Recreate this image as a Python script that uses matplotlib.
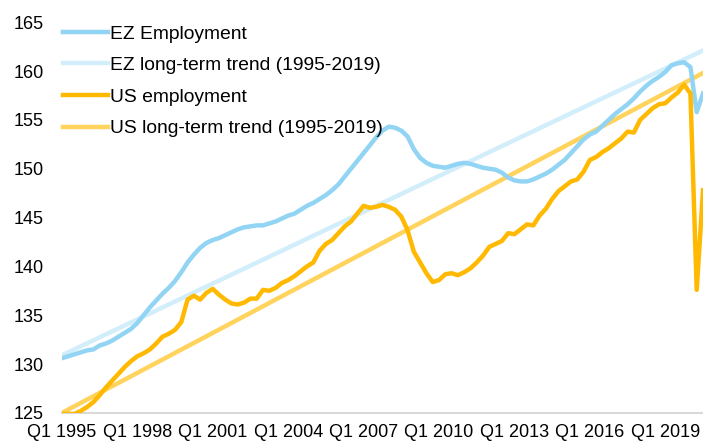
import matplotlib.pyplot as plt
import numpy as np

plt.rcParams['font.family'] = ['Liberation Sans', 'DejaVu Sans']

# Quarterly index values, Q1 1995 .. Q3 2020
ez_employment = [
    130.6, 130.8, 131.0, 131.2, 131.4, 131.5, 131.9, 132.1, 132.4, 132.8,
    133.2, 133.6, 134.2, 135.0, 135.8, 136.5, 137.2, 137.8, 138.5, 139.4,
    140.4, 141.2, 141.9, 142.4, 142.7, 142.9, 143.2, 143.5, 143.8, 144.0,
    144.1, 144.2, 144.2, 144.4, 144.6, 144.9, 145.2, 145.4, 145.8, 146.2,
    146.5, 146.9, 147.3, 147.8, 148.4, 149.2, 150.0, 150.8, 151.6, 152.4,
    153.2, 153.9, 154.3, 154.2, 153.9, 153.3, 152.0, 151.1, 150.6, 150.3,
    150.2, 150.1, 150.3, 150.5, 150.6, 150.5, 150.3, 150.1, 150.0, 149.9,
    149.6, 149.1, 148.8, 148.7, 148.7, 148.9, 149.2, 149.5, 149.9, 150.4,
    150.9, 151.6, 152.3, 153.0, 153.5, 153.8, 154.4, 155.0, 155.6, 156.1,
    156.6, 157.2, 157.9, 158.5, 159.0, 159.4, 159.9, 160.6, 160.8, 160.9,
    160.4, 155.8, 157.7,
]
us_employment = [
    124.9, 124.9, 124.9, 125.2, 125.6, 126.1, 126.8, 127.6, 128.3, 129.0,
    129.7, 130.3, 130.8, 131.1, 131.5, 132.1, 132.8, 133.1, 133.5, 134.3,
    136.6, 137.0, 136.6, 137.3, 137.7, 137.1, 136.6, 136.2, 136.1, 136.3,
    136.7, 136.7, 137.6, 137.5, 137.8, 138.3, 138.6, 139.0, 139.5, 140.0,
    140.4, 141.6, 142.3, 142.7, 143.4, 144.1, 144.6, 145.4, 146.2, 146.0,
    146.1, 146.3, 146.1, 145.8, 145.1, 143.7, 141.5, 140.4, 139.3, 138.4,
    138.6, 139.2, 139.3, 139.1, 139.4, 139.8, 140.4, 141.1, 142.0, 142.3,
    142.6, 143.4, 143.3, 143.8, 144.3, 144.2, 145.2, 145.9, 146.9, 147.7,
    148.2, 148.7, 148.9, 149.7, 150.9, 151.2, 151.7, 152.1, 152.6, 153.1,
    153.8, 153.7, 155.0, 155.6, 156.2, 156.6, 156.7, 157.3, 157.8, 158.6,
    157.7, 137.6, 147.8,
]
# Long-term trend lines: value at first and last quarter
ez_trend = [130.9, 162.1]
us_trend = [125.0, 159.8]

tick_labels = ['Q1 1995', 'Q1 1998', 'Q1 2001', 'Q1 2004', 'Q1 2007',
               'Q1 2010', 'Q1 2013', 'Q1 2016', 'Q1 2019']

x = np.arange(len(ez_employment))
trend_x = [x[0], x[-1]]

fig = plt.figure(figsize=(7.03, 4.44), dpi=100)
ax = fig.add_axes([0.088, 0.070, 0.912, 0.880])

ax.plot(x, ez_employment, color='#92D4F4', lw=3.2, label='EZ Employment', zorder=3)
ax.plot(trend_x, ez_trend, color='#D3EEFB', lw=3.2, label='EZ long-term trend (1995-2019)', zorder=2)
ax.plot(x, us_employment, color='#FFB900', lw=3.2, label='US employment', zorder=4)
ax.plot(trend_x, us_trend, color='#FFD35C', lw=3.2, label='US long-term trend (1995-2019)', zorder=2)

ax.set_xlim(0, len(x) - 1)
ax.set_ylim(125, 165)
ax.set_yticks(np.arange(125, 166, 5))
ax.set_xticks(np.arange(0, len(x), 12))
ax.set_xticklabels(tick_labels)
ax.tick_params(axis='both', length=0, labelsize=13, colors='#000000')
ax.tick_params(axis='x', pad=8)
ax.tick_params(axis='y', pad=13)

for s in ['top', 'right', 'left']:
    ax.spines[s].set_visible(False)
ax.spines['bottom'].set_color('#D9D9D9')
ax.spines['bottom'].set_linewidth(1.5)

ax.legend(loc='upper left', bbox_to_anchor=(63 / 703, 419 / 444),
          bbox_transform=fig.transFigure, frameon=False, borderpad=0,
          borderaxespad=0, fontsize=13.9, labelspacing=0.73,
          handlelength=2.35, handletextpad=0.1)

fig.savefig('out.png', dpi=100)
